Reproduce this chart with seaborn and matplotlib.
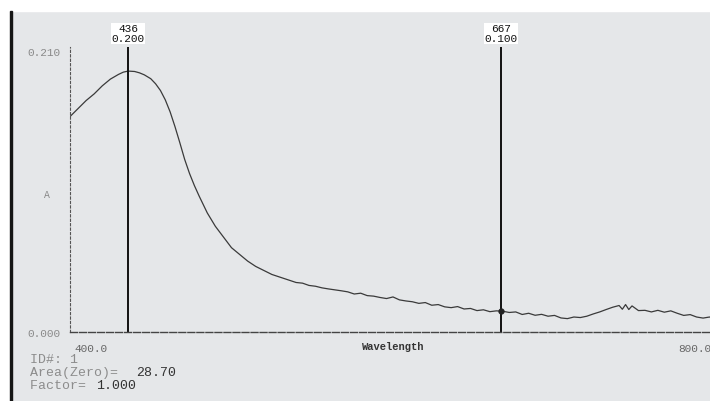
import matplotlib
matplotlib.use("Agg")
import matplotlib.pyplot as plt
from matplotlib.patches import Rectangle
import pandas as pd
import seaborn as sns

# spectrum (nm, absorbance)
wavelength = [
    400, 405, 410, 415, 420, 425, 430, 433, 436, 440, 443, 446, 450, 453, 456,
    459, 462, 465, 468, 471, 474, 477, 480, 485, 490, 495, 500, 505, 510, 515,
    520, 525, 530, 535, 540,
    544, 548, 552, 556, 560, 564, 568, 572, 576, 580, 584, 588, 592, 596, 600,
    604, 608, 612, 616, 620, 624, 628, 632, 636, 640, 644, 648, 652, 656, 660,
    664, 668, 672, 676, 680, 684, 688, 692, 696, 700, 704, 708, 712, 716, 720,
    724, 728, 732, 736, 740, 742, 744, 746, 748, 752, 756, 760, 764, 768, 772,
    776, 780, 784, 788, 792, 796, 800,
]
absorbance = [
    0.161, 0.167, 0.173, 0.178, 0.184, 0.189, 0.1925, 0.1942, 0.195, 0.1947,
    0.1937, 0.1922, 0.1893, 0.1855, 0.1805, 0.1735, 0.1645, 0.1535, 0.1415,
    0.1290, 0.1185, 0.1095, 0.1015, 0.089, 0.079, 0.071, 0.063, 0.058,
    0.053, 0.049, 0.046, 0.043, 0.041, 0.039, 0.037,
    0.0365, 0.0348, 0.0342, 0.0330, 0.0322, 0.0315, 0.0308, 0.0300, 0.0284,
    0.0290, 0.0272, 0.0268, 0.0258, 0.0250, 0.0262, 0.0240, 0.0232, 0.0226,
    0.0214, 0.0220, 0.0200, 0.0205, 0.0188, 0.0182, 0.0190, 0.0172, 0.0176,
    0.0160, 0.0166, 0.0152, 0.0158, 0.0155, 0.0146, 0.0150, 0.0131, 0.0140,
    0.0125, 0.0132, 0.0118, 0.0124, 0.0105, 0.0100, 0.0112, 0.0108, 0.0118,
    0.0135, 0.0150, 0.0168, 0.0185, 0.0198, 0.0170, 0.0205, 0.0168, 0.0195,
    0.0160, 0.0162, 0.0150, 0.0162, 0.0148, 0.0158, 0.0140, 0.0124, 0.0130,
    0.0112, 0.0104, 0.0112, 0.0095,
]

marker_nm = [436, 667]
marker_labels = ["436\n0.200", "667\n0.100"]
x_ticks = [420, 440, 460, 480, 500, 520, 540, 560, 580, 600, 620, 640, 660,
           680, 700, 720, 740, 760, 780]
y_minor = [0.0175, 0.0525, 0.0875, 0.1225, 0.1575, 0.1925]
y_labels = ["0.000", "0.210"]
y_label_pos = [0.0, 0.21]
info_lines = [("ID#: 1", ""), ("Area(Zero)=  ", "28.70"), ("Factor= ", "1.000")]

W, H = 710, 402
paper = "#e5e7e9"

sns.set_style("white")
plt.rcParams["font.family"] = ["Liberation Mono", "DejaVu Sans Mono"]

fig = plt.figure(figsize=(W / 100, H / 100), dpi=100, facecolor=paper)

# scanner edges: white strip on top / left, black page border
fig.patches.append(Rectangle((0, 1 - 12 / H), 1, 12 / H, transform=fig.transFigure,
                             color="white", zorder=0))
fig.patches.append(Rectangle((0, 0), 10 / W, 1, transform=fig.transFigure,
                             color="white", zorder=0))
fig.patches.append(Rectangle((10 / W, 0), 2 / W, 1 - 12 / H, transform=fig.transFigure,
                             color="#151515", zorder=1))

ax = fig.add_axes([70 / W, 1 - 333 / H, 646 / W, 285 / H])
ax.set_facecolor("none")

df = pd.DataFrame({"nm": wavelength, "abs": absorbance})
sns.lineplot(data=df, x="nm", y="abs", ax=ax, color="#3a3a3a", linewidth=0.9)

ax.set_xlim(400, 800)
ax.set_ylim(0, 0.213)

# marker lines
for nm, lab in zip(marker_nm, marker_labels):
    ax.vlines(nm, 0, 0.213, color="#111111", linewidth=1.4)
    ax.text(nm, 0.216, lab, ha="center", va="bottom", fontsize=8, color="#111111",
            linespacing=0.95,
            bbox=dict(facecolor="white", edgecolor="none", pad=0.5))
ax.plot(marker_nm[1], df.loc[df["nm"] == 668, "abs"].iloc[0], "o",
        color="#222222", markersize=3.5)

for side in ["top", "right"]:
    ax.spines[side].set_visible(False)
ax.spines["left"].set_linestyle((0, (2, 2)))
ax.spines["left"].set_color("#555555")
ax.spines["left"].set_linewidth(0.8)
ax.spines["bottom"].set_linestyle((0, (5, 1.5)))
ax.spines["bottom"].set_color("#444444")
ax.spines["bottom"].set_linewidth(1.0)

ax.set_xticks(x_ticks)
ax.set_xticklabels([])
ax.tick_params(axis="x", direction="out", length=4, width=0.8, color="#444444")
ax.set_yticks(y_label_pos)
ax.set_yticklabels(y_labels, fontsize=8, color="#8a8a8a")
ax.set_yticks(y_minor, minor=True)
ax.tick_params(axis="y", which="both", direction="out", length=3, width=0.8,
               color="#555555", pad=4)
ax.set_xlabel("")
ax.set_ylabel("")

ax.text(-0.035, 0.103, "A", transform=ax.get_yaxis_transform(), fontsize=7,
        color="#888888", ha="center", va="center")
ax.text(403, -0.008, "400.0", ha="left", va="top", fontsize=8, color="#666666")
ax.text(797, -0.008, "800.0", ha="right", va="top", fontsize=8, color="#666666")
ax.text(600, -0.007, "Wavelength", ha="center", va="top", fontsize=7.5,
        color="#333333", fontweight="bold")

# info block under the plot
for i, (key, val) in enumerate(info_lines):
    y = 1 - (360 + 13 * i) / H
    fig.text(30 / W, y, key, fontsize=9.5, color="#8c8c8c", va="center")
    if val:
        fig.text(30 / W + len(key) * 8.2 / W, y, val, fontsize=9.5,
                 color="#333333", va="center")

fig.savefig("out.png", dpi=100, facecolor=paper)
